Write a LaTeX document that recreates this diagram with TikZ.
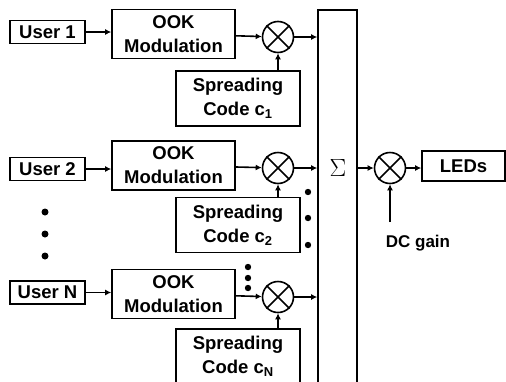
\documentclass[tikz,border=0pt]{standalone}
\usepackage{fontspec}
\setmainfont{Liberation Sans}
\usetikzlibrary{arrows.meta}

\tikzset{
    blk/.style={draw, line width=1.6pt, inner sep=0pt, align=center,
        font=\bfseries\fontsize{18.5}{24}\selectfont},
    mult/.style={draw, circle, line width=1.6pt, minimum size=31pt, inner sep=0pt},
}

\begin{document}
\begin{tikzpicture}[x=1pt, y=-1pt, line width=1.6pt, >={Latex[length=6pt,width=6pt]}]
        \useasboundingbox (0,0) rectangle (506,381);
        \clip (0,0) rectangle (506,381);

        % summing block
        \node[blk, minimum width=39pt, minimum height=384pt] (sum) at (337.5,202) {};
        \node (sigma) at (338,168) {\fontsize{30}{30}\selectfont$\Sigma$};

        % one branch per user
        \foreach \n/\u/\o/\m/\s in {1/32/34/37/98.5, 2/169/165.5/168/225, N/292.5/294/297/356.5} {
            \node[blk, minimum width=75pt, minimum height=23pt] (user\n) at (47.5,\u) {User \n};
            \node[blk, minimum width=123pt, minimum height=49pt] (ook\n) at (173.5,\o) {OOK\\Modulation};
            \node[mult] (m\n) at (278,\m) {};
            \draw (m\n.45) -- (m\n.225) (m\n.135) -- (m\n.315);
            \node[blk, minimum width=124pt, minimum height=55pt] (spr\n) at (238,\s)
                {Spreading\\Code c\textsubscript{\n}};
            \draw[->] (user\n.east) -- (user\n.east -| ook\n.west);
            \draw[->] (ook\n) -- (m\n);
            \draw[->] (spr\n.north -| m\n) -- (m\n.south);
            \draw[->] (m\n.east) -- (m\n.east -| sum.west);
        }

        % output stage
        \node[mult] (mout) at (390,168) {};
        \draw (mout.45) -- (mout.225) (mout.135) -- (mout.315);
        \node[blk, minimum width=83pt, minimum height=30pt] (leds) at (463.5,166) {LEDs};
        \coordinate (dcin) at (390,222);
        \node[font=\bfseries\fontsize{17}{18}\selectfont] (dcgain) at (418,243) {DC gain};
        \draw[->] (sum.east |- mout) -- (mout.west);
        \draw[->] (mout.east) -- (mout.east -| leds.west);
        \draw[->] (dcin) -- (mout.south);

        % dots
        \foreach \y in {212, 234, 256}
            \fill (45,\y) circle (3.5pt);
        \foreach \y in {192, 218, 245}
            \fill (308,\y) circle (3.2pt);
        \foreach \y in {267, 278, 288}
            \fill (248,\y) circle (3.2pt);
    \end{tikzpicture}
\end{document}
